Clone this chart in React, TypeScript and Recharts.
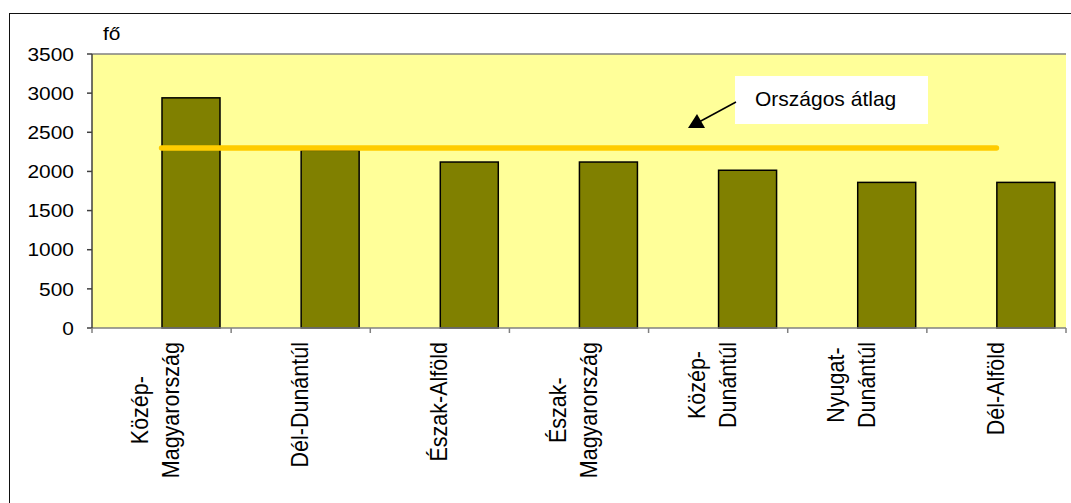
import { Bar, CartesianGrid, ComposedChart, Line, ReferenceLine, XAxis, YAxis } from "recharts";

const regions = [
  "Közép-Magyarország",
  "Dél-Dunántúl",
  "Észak-Alföld",
  "Észak-Magyarország",
  "Közép-Dunántúl",
  "Nyugat-Dunántúl",
  "Dél-Alföld",
];
const regionLines = [
  ["Közép-", "Magyarország"],
  ["Dél-Dunántúl"],
  ["Észak-Alföld"],
  ["Észak-", "Magyarország"],
  ["Közép-", "Dunántúl"],
  ["Nyugat-", "Dunántúl"],
  ["Dél-Alföld"],
];
const values = [2940, 2270, 2120, 2120, 2015, 1860, 1860];
const average = [2300, 2300, 2300, 2300, 2300, 2300, 2300];
const yTicks = [0, 500, 1000, 1500, 2000, 2500, 3000, 3500];

const data = regions.map((region, i) => ({ region, value: values[i], avg: average[i] }));

const W = 1071;
const H = 503;
const M = { top: 54, right: 5, bottom: 10, left: 12 };
const Y_W = 80;
const BAND = (W - M.left - M.right - Y_W) / regions.length;
const FONT = '"Liberation Sans", Arial, sans-serif';
const LABEL_SIZE = 21.5;

let ctx: CanvasRenderingContext2D | null = null;
const measure = (s: string) => {
  if (!ctx) ctx = document.createElement("canvas").getContext("2d");
  if (!ctx) return s.length * 11;
  ctx.font = `${LABEL_SIZE}px ${FONT}`;
  return ctx.measureText(s).width;
};

const CategoryTick = (props: any) => {
  const { x, y, index } = props;
  const lines = regionLines[index] || [];
  const w = Math.max(...lines.map(measure));
  const mid = y + 14 + w / 2;
  const offs = lines.length === 1 ? [6.5] : [-12, 16];
  const left = x - BAND / 2;
  return (
    <g>
      <line x1={left} x2={left} y1={y} y2={y + 5} stroke="#808080" strokeWidth={1.5} />
      {index === regions.length - 1 && (
        <line x1={x + BAND / 2} x2={x + BAND / 2} y1={y} y2={y + 5} stroke="#808080" strokeWidth={1.5} />
      )}
      <g transform={`translate(${x},${mid}) rotate(-90) scale(1,1.1)`}>
        {lines.map((l, i) => (
          <text key={i} x={0} y={offs[i]} textAnchor="middle" fontSize={LABEL_SIZE} fill="#000">
            {l}
          </text>
        ))}
      </g>
    </g>
  );
};

// excel-ish: slightly wide digits
const ValueTick = (props: any) => {
  const { x, y, payload } = props;
  return (
    <text
      transform={`translate(${x},${y}) scale(1.1,1)`}
      textAnchor="end"
      dy="0.355em"
      fontSize={19}
      fill="#000"
    >
      {payload.value}
    </text>
  );
};

// bar starts at category centre, like the excel original
const ShiftedBar = (p: any) => (
  <rect
    x={p.x + p.width / 2}
    y={p.y}
    width={p.width}
    height={p.height}
    fill="#808000"
    stroke="#000"
    strokeWidth={1.5}
  />
);

export default function App() {
  return (
    <div
      style={{
        position: "fixed",
        left: 0,
        top: 0,
        width: W,
        height: H,
        overflow: "hidden",
        background: "#fff",
        fontFamily: FONT,
      }}
    >
      <div
        style={{
          position: "absolute",
          left: 9,
          top: 13,
          width: 1200,
          height: 700,
          border: "1.5px solid #111",
        }}
      />
      <div style={{ position: "absolute", left: 0, top: 0 }}>
        <ComposedChart width={W} height={H} data={data} margin={M}>
          <CartesianGrid fill="#FFFF99" horizontal={false} vertical={false} />
          <XAxis
            dataKey="region"
            interval={0}
            height={H - M.top - M.bottom - 274}
            tickSize={0}
            tickMargin={0}
            tickLine={false}
            axisLine={{ stroke: "#808080", strokeWidth: 1.5 }}
            tick={<CategoryTick />}
          />
          <YAxis
            domain={[0, 3500]}
            ticks={yTicks}
            width={Y_W}
            tickSize={5}
            tickMargin={13}
            tick={<ValueTick />}
            axisLine={{ stroke: "#404040", strokeWidth: 1.5 }}
            tickLine={{ stroke: "#404040", strokeWidth: 1.5 }}
          />
          <YAxis
            yAxisId="r"
            orientation="right"
            width={0}
            tick={false}
            tickLine={false}
            axisLine={{ stroke: "#808080", strokeWidth: 2 }}
          />
          <ReferenceLine y={3500} stroke="#808080" strokeWidth={1.5} />
          <Bar dataKey="value" barSize={58} shape={ShiftedBar} isAnimationActive={false} />
          <Line
            dataKey="avg"
            stroke="#FFCC00"
            strokeWidth={5.5}
            strokeLinecap="round"
            dot={false}
            activeDot={false}
            isAnimationActive={false}
          />
        </ComposedChart>
      </div>
      <svg
        width={W}
        height={H}
        style={{ position: "absolute", left: 0, top: 0, pointerEvents: "none" }}
      >
        <text x={103} y={40} fontSize={19} fill="#000" transform="translate(103,0) scale(1.1,1) translate(-103,0)">
          fő
        </text>
        <rect x={735} y={76} width={193} height={48} fill="#fff" />
        <text x={755} y={106} fontSize={21} fill="#000">
          Országos átlag
        </text>
        <line x1={736} y1={102} x2={699} y2={122} stroke="#000" strokeWidth={1.5} />
        <polygon points="688,128 705,128 697,114" fill="#000" />
      </svg>
    </div>
  );
}
